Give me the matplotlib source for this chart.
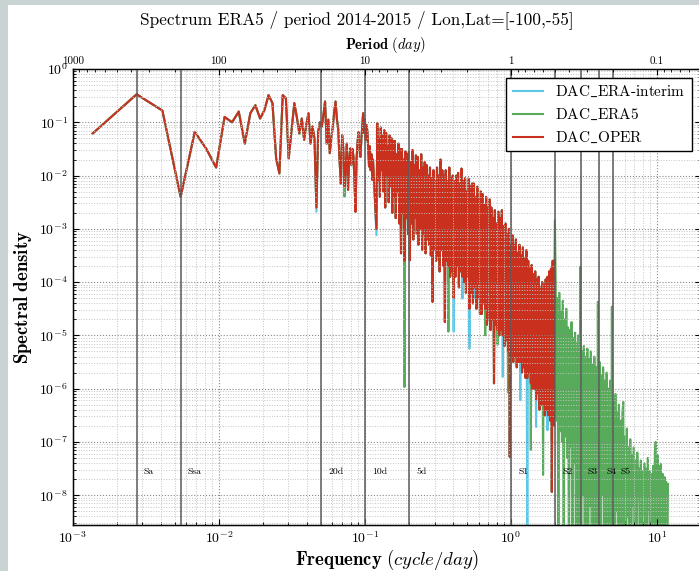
import numpy as np
import matplotlib
matplotlib.use("Agg")
import matplotlib.pyplot as plt
from matplotlib.patches import Rectangle
from matplotlib.ticker import LogLocator, FixedLocator, FixedFormatter, NullFormatter

plt.rcParams['font.family'] = ['cmr10', 'DejaVu Serif']
plt.rcParams['mathtext.fontset'] = 'cm'
plt.rcParams['axes.formatter.use_mathtext'] = True

# ---------------- data ----------------
# frequencies (cycle/day) shared by the three series, up to 2 cpd
freq_shared = [
    0.00137, 0.00274, 0.00411, 0.00548, 0.00685, 0.00822, 0.00959, 0.01096, 0.01233, 0.0137,
    0.01507, 0.01644, 0.0178, 0.01918, 0.02055, 0.0219, 0.0233, 0.0247, 0.0260, 0.0274,
    0.0288, 0.0301, 0.0315, 0.0329, 0.0342, 0.0356, 0.0370, 0.0384, 0.0397, 0.0411,
    0.0425, 0.0438, 0.0452, 0.0466, 0.0479, 0.0493, 0.0507, 0.0521, 0.0534, 0.0548,
    0.0562, 0.0575, 0.0589, 0.0603, 0.0616, 0.0630, 0.0644, 0.0658, 0.0671, 0.0685,
    0.0699, 0.0712, 0.0726, 0.0740, 0.0753, 0.0767, 0.0781, 0.0795, 0.0808, 0.0822,
    0.0836, 0.0849, 0.0863, 0.0877, 0.0890, 0.0904, 0.0918, 0.0932, 0.0945, 0.0959,
    0.0973, 0.0986, 0.1000, 0.1014, 0.1027, 0.1041, 0.1055, 0.1068, 0.1082, 0.1096,
    0.1110, 0.1123, 0.1137,
    0.1200, 0.1217, 0.1234, 0.1251, 0.1268, 0.1286, 0.1304, 0.1322, 0.1341, 0.1359,
    0.1378, 0.1398, 0.1417, 0.1437, 0.1457, 0.1477, 0.1498, 0.1519, 0.1540, 0.1562,
    0.1583, 0.1605, 0.1628, 0.1650, 0.1673, 0.1697, 0.1720, 0.1744, 0.1768, 0.1793,
    0.1818, 0.1843, 0.1869, 0.1895, 0.1922, 0.1948, 0.1975, 0.2003, 0.2031, 0.2059,
    0.2088, 0.2117, 0.2146, 0.2176, 0.2207, 0.2237, 0.2269, 0.2300, 0.2332, 0.2365,
    0.2398, 0.2431, 0.2465, 0.2499, 0.2534, 0.2569, 0.2605, 0.2641, 0.2678, 0.2715,
    0.2753, 0.2791, 0.2830, 0.2870, 0.2909, 0.2950, 0.2991, 0.3033, 0.3075, 0.3118,
    0.3161, 0.3205, 0.3250, 0.3295, 0.3341, 0.3388, 0.3435, 0.3482, 0.3531, 0.3580,
    0.3630, 0.3680, 0.3732, 0.3783, 0.3836, 0.3889, 0.3944, 0.3998, 0.4054, 0.4110,
    0.4168, 0.4226, 0.4284, 0.4344, 0.4404, 0.4466, 0.4528, 0.4591, 0.4655, 0.4719,
    0.4785, 0.4852, 0.4919, 0.4988, 0.5057, 0.5128, 0.5199, 0.5271, 0.5345, 0.5419,
    0.5495, 0.5571, 0.5649, 0.5727, 0.5807, 0.5888, 0.5970, 0.6053, 0.6137, 0.6223,
    0.6309, 0.6397, 0.6486, 0.6577, 0.6668, 0.6761, 0.6855, 0.6950, 0.7047, 0.7145,
    0.7244, 0.7345, 0.7447, 0.7551, 0.7656, 0.7762, 0.7870, 0.7980, 0.8091, 0.8203,
    0.8318, 0.8433, 0.8551, 0.8670, 0.8790, 0.8913, 0.9036, 0.9162, 0.9290, 0.9419,
    0.9550, 0.9683, 0.9817, 0.9954, 1.0093, 1.0233, 1.0375, 1.0520, 1.0666, 1.0815,
    1.0965, 1.1117, 1.1272, 1.1429, 1.1588, 1.1749, 1.1912, 1.2078, 1.2246, 1.2417,
    1.2589, 1.2764, 1.2942, 1.3122, 1.3305, 1.3490, 1.3677, 1.3868, 1.4060, 1.4256,
    1.4454, 1.4655, 1.4859, 1.5066, 1.5276, 1.5488, 1.5704, 1.5922, 1.6144, 1.6368,
    1.6596, 1.6827, 1.7061, 1.7298, 1.7539, 1.7783, 1.8030, 1.8281, 1.8535, 1.8793,
    1.9055, 1.9320, 1.9588, 1.9861, 2.0000,
]

# log10 of spectral density, DAC_OPER
oper_log_psd = [
    -1.21, -0.475, -0.78, -2.40, -1.18, -1.50, -1.85, -0.90, -1.00, -0.80,
    -1.40, -0.83, -0.68, -0.93, -0.77, -0.49, -0.64, -1.68, -1.96, -0.49,
    -0.55, -1.68, -1.15, -0.64, -0.90, -1.21, -0.93, -1.33, -1.05, -0.83,
    -1.40, -1.08, -1.30, -2.60, -1.18, -1.00, -1.08, -0.85, -0.61, -1.40,
    -0.95, -1.58, -1.30, -1.08, -0.82, -0.61, -0.95, -1.15, -1.71, -2.15,
    -1.24, -1.50, -2.20, -1.83, -1.40, -2.27, -1.70, -1.49, -1.80, -1.50,
    -1.65, -2.10, -2.68, -1.70, -1.40, -1.18, -1.50, -1.65, -1.35, -1.10,
    -0.83, -1.20, -0.95, -1.33, -1.05, -1.18, -1.50, -1.83, -1.45, -1.90,
    -1.60, -2.08, -1.70,
    -3.00, -1.02, -2.10, -1.30, -2.40, -1.10, -1.90, -1.25, -2.30, -1.15,
    -2.60, -1.20, -2.00, -1.45, -2.50, -1.25, -2.20, -1.30, -2.70, -1.35,
    -2.40, -1.35, -2.80, -1.60, -2.30, -1.40, -2.90, -1.50, -3.46, -1.50,
    -2.70, -1.70, -3.60, -1.55, -2.80, -1.60, -3.10, -1.55, -3.59, -1.75,
    -2.90, -1.52, -3.20, -1.80, -2.80, -1.62, -3.10, -1.65, -3.30, -1.90,
    -3.00, -1.60, -3.40, -1.85, -3.10, -1.75, -3.46, -1.80, -3.20, -2.00,
    -3.30, -1.85, -3.50, -2.05, -4.37, -1.90, -3.40, -2.10, -3.60, -1.85,
    -3.50, -2.00, -3.80, -1.70, -3.40, -1.90, -3.70, -2.00, -4.75, -1.90,
    -3.60, -2.10, -3.70, -1.85, -3.90, -2.05, -3.80, -2.00, -4.30, -2.10,
    -3.90, -2.00, -3.70, -1.95, -4.10, -2.15, -3.80, -1.87, -3.90, -2.10,
    -4.00, -2.05, -4.20, -2.30, -3.90, -2.06, -4.50, -2.20, -4.20, -2.15,
    -4.40, -2.15, -4.10, -2.40, -4.50, -2.21, -4.30, -2.45, -4.60, -2.30,
    -4.60, -2.35, -4.40, -2.55, -4.50, -2.40, -4.80, -2.60, -4.70, -2.45,
    -4.90, -2.60, -4.70, -2.80, -5.90, -2.65, -4.80, -2.90, -4.90, -2.68,
    -5.00, -2.80, -4.90, -2.65, -5.00, -2.95, -5.20, -2.90, -5.10, -3.10,
    -5.30, -3.00, -7.28, -3.30, -5.40, -3.12, -5.50, -3.30, -5.40, -3.20,
    -5.60, -3.45, -5.50, -3.30, -5.50, -3.50, -5.70, -3.35, -5.60, -3.55,
    -5.80, -3.40, -5.80, -3.60, -5.70, -3.75, -5.90, -3.68, -6.00, -3.85,
    -6.00, -3.80, -6.20, -3.95, -6.10, -3.90, -6.40, -4.10, -6.30, -4.00,
    -6.30, -4.05, -6.50, -3.95, -6.40, -3.90, -6.50, -3.80, -6.60, -3.75,
    -7.94, -3.60, -6.70, -3.59, -3.70,
]

# where DAC_ERA-interim differs from DAC_OPER (freq -> log10 psd)
interim_diff_freq = [0.0466, 0.1200, 0.4054, 0.4655, 0.5199, 0.5649, 0.8791, 1.1588, 1.2946, 1.4859, 1.7783]
interim_diff_log_psd = [-2.68, -3.12, -4.93, -4.31, -5.25, -4.30, -5.78, -6.22, -9.50, -6.72, -6.78]

# where DAC_ERA5 differs from DAC_OPER below 2 cpd
era5_diff_freq = [0.0726, 0.1869, 0.3732, 0.6668, 0.8091, 0.9550, 1.3677, 1.6596, 2.0000]
era5_diff_log_psd = [-2.40, -5.97, -4.93, -5.00, -5.18, -6.07, -7.15, -7.62, -2.84]

# DAC_ERA5 above 2 cpd
era5_hi_freq = [
    2.028, 2.056, 2.085, 2.113, 2.143, 2.173, 2.203, 2.234, 2.265, 2.296,
    2.328, 2.360, 2.393, 2.427, 2.460, 2.495, 2.529, 2.564, 2.600, 2.636,
    2.673, 2.710, 2.748, 2.786, 2.825, 2.864, 2.904, 2.944, 2.985, 3.027,
    3.069, 3.111, 3.155, 3.199, 3.243, 3.289, 3.334, 3.381, 3.428, 3.475,
    3.524, 3.573, 3.622, 3.673, 3.724, 3.776, 3.828, 3.882, 3.936, 3.990,
    4.046, 4.102, 4.159, 4.217, 4.276, 4.335, 4.395, 4.457, 4.519, 4.581,
    4.645, 4.710, 4.775, 4.842, 4.909, 4.977, 5.047, 5.117, 5.188, 5.260,
    5.333, 5.408, 5.483, 5.559, 5.636, 5.715, 5.794, 5.875, 5.957, 6.039,
    6.123, 6.209, 6.295, 6.383, 6.471, 6.561, 6.653, 6.745, 6.839, 6.934,
    7.031, 7.129, 7.228, 7.328, 7.430, 7.534, 7.638, 7.745, 7.852, 7.962,
    8.072, 8.185, 8.299, 8.414, 8.531, 8.650, 8.770, 8.892, 9.016, 9.141,
    9.268, 9.397, 9.528, 9.661, 9.795, 9.931, 10.07, 10.21, 10.35, 10.50,
    10.64, 10.79, 10.94, 11.09, 11.25, 11.40, 11.56, 11.72, 11.89,
]
era5_hi_log_psd = [
    -4.15, -6.60, -4.30, -10.0, -4.20, -6.80, -4.55, -7.00, -4.35, -10.0,
    -4.70, -6.90, -4.50, -7.30, -4.85, -10.0, -4.90, -7.10, -4.75, -10.0,
    -5.05, -7.40, -4.95, -10.0, -5.15, -10.0, -5.00, -10.0, -3.71, -10.0,
    -5.30, -8.00, -5.20, -10.0, -5.40, -10.0, -5.25, -10.0, -5.45, -8.20,
    -5.30, -10.0, -5.55, -10.0, -5.40, -10.0, -5.60, -10.0, -4.37, -10.0,
    -5.50, -10.0, -5.75, -8.00, -5.60, -10.0, -5.85, -10.0, -5.70, -10.0,
    -6.00, -10.0, -5.85, -10.0, -4.46, -10.0, -6.25, -10.0, -6.10, -8.30,
    -6.45, -10.0, -6.30, -10.0, -6.60, -10.0, -6.45, -6.25, -10.0, -6.90,
    -10.0, -6.75, -8.40, -7.10, -10.0, -6.95, -10.0, -7.25, -8.20, -7.10,
    -10.0, -7.35, -10.0, -7.20, -8.10, -7.50, -10.0, -7.35, -10.0, -7.55,
    -8.40, -7.40, -10.0, -7.50, -10.0, -7.30, -8.30, -7.55, -10.0, -7.60,
    -10.0, -7.45, -10.0, -7.20, -7.00, -10.0, -7.25, -10.0, -7.45, -10.0,
    -7.41, -10.0, -7.60, -10.0, -7.66, -10.0, -7.75, -10.0, -7.79,
]

# tidal / reference frequencies (cycle/day) and their labels
line_freq = [1 / 365.25, 2 / 365.25, 1 / 20, 1 / 10, 1 / 5, 1, 2, 3, 4, 5]
line_labels = ['Sa', 'Ssa', '20d', '10d', '5d', 'S1', 'S2', 'S3', 'S4', 'S5']

period_ticks = [1000, 100, 10, 1, 0.1]
period_labels = ['1000', '100', '10', '1', '0.1']

series_names = ['DAC$\\_$ERA-interim', 'DAC$\\_$ERA5', 'DAC$\\_$OPER']
series_colors = ['#5cc6e6', '#57ab5a', '#c9301d']

# ---------------- build series ----------------
f_sh = np.array(freq_shared)
oper_psd = 10.0 ** np.array(oper_log_psd)

interim_psd = oper_psd.copy()
for f, v in zip(interim_diff_freq, interim_diff_log_psd):
    interim_psd[np.argmin(np.abs(f_sh - f))] = 10.0 ** v

era5_lo = oper_psd.copy()
for f, v in zip(era5_diff_freq, era5_diff_log_psd):
    era5_lo[np.argmin(np.abs(f_sh - f))] = 10.0 ** v
era5_freq = np.concatenate([f_sh, np.array(era5_hi_freq)])
era5_psd = np.concatenate([era5_lo, 10.0 ** np.array(era5_hi_log_psd)])

# ---------------- figure ----------------
W, H = 699, 571
fig = plt.figure(figsize=(W / 100, H / 100), dpi=100)
fig.patch.set_facecolor('#c9d3d3')
fig.add_artist(Rectangle((8 / W, 0), 1, (H - 5) / H, transform=fig.transFigure,
                         facecolor='white', edgecolor='none', zorder=-10))

left, right, top, bottom = 72.7, 701.0, 69.0, 525.0
ax = fig.add_axes([left / W, 1 - bottom / H, (right - left) / W, (bottom - top) / H])
ax.set_xscale('log')
ax.set_yscale('log')

lw = 1.5
ax.plot(f_sh, interim_psd, color=series_colors[0], lw=lw, label=series_names[0], zorder=2)
ax.plot(era5_freq, era5_psd, color=series_colors[1], lw=lw, label=series_names[1], zorder=2.1)
ax.plot(f_sh, oper_psd, color=series_colors[2], lw=lw, label=series_names[2], zorder=2.2)

for f, name in zip(line_freq, line_labels):
    ax.axvline(f, color='#5a5a5a', lw=1.1, zorder=3)
    ax.text(f * 1.12, 2.7e-8, name, fontsize=7, ha='left', va='center', zorder=4)

ax.set_xlim(1e-3, 20)
ax.set_ylim(10 ** -8.56, 1)

ax.xaxis.set_major_locator(LogLocator(base=10, numticks=50))
ax.yaxis.set_major_locator(LogLocator(base=10, numticks=50))
ax.xaxis.set_minor_locator(LogLocator(base=10, subs=np.arange(2, 10), numticks=50))
ax.yaxis.set_minor_locator(LogLocator(base=10, subs=np.arange(2, 10), numticks=50))
ax.xaxis.set_minor_formatter(NullFormatter())
ax.yaxis.set_minor_formatter(NullFormatter())

ax.set_axisbelow(False)
ax.grid(True, which='major', ls=':', color='#888888', lw=0.8, zorder=2.5)
ax.grid(True, which='minor', ls=':', color='#c4c4c4', lw=0.7, zorder=2.5)
ax.tick_params(which='both', direction='in', top=False, right=True, labelsize=10)
ax.tick_params(which='major', length=4)
ax.tick_params(which='minor', length=2)
for s in ax.spines.values():
    s.set_linewidth(1.0)

# top axis: period (day)
ax2 = ax.twiny()
ax2.set_xscale('log')
ax2.set_xlim(ax.get_xlim())
ax2.xaxis.set_major_locator(FixedLocator([1.0 / p for p in period_ticks]))
ax2.xaxis.set_major_formatter(FixedFormatter(period_labels))
minor_periods = [m * 10.0 ** e for e in range(-2, 3) for m in range(2, 10)]
ax2.xaxis.set_minor_locator(FixedLocator([1.0 / p for p in minor_periods]))
ax2.xaxis.set_minor_formatter(NullFormatter())
ax2.tick_params(which='both', direction='in', labelsize=8, pad=2)
ax2.tick_params(which='major', length=4)
ax2.tick_params(which='minor', length=2)

ax.set_xlabel(r'$\mathbf{Frequency}\ (cycle/day)$', fontsize=13.5)
ax.xaxis.set_label_coords(0.5, -0.05)
ax.set_ylabel(r'$\mathbf{Spectral\ density}$', fontsize=13.5)
ax.yaxis.set_label_coords(-0.062, 0.5)

fig.text(386 / W, 1 - 45 / H, r'$\mathbf{Period}\ (day)$', fontsize=10.5, ha='center', va='center')
fig.text(357 / W, 1 - 20 / H, 'Spectrum ERA5 / period 2014-2015 / Lon,Lat=[-100,-55]',
         fontsize=12.4, ha='center', va='center')

leg = ax.legend(loc='upper right', fontsize=11, fancybox=False, framealpha=1,
                edgecolor='black', borderaxespad=0.6, handlelength=2.0)
leg.get_frame().set_linewidth(1.0)
leg.set_zorder(10)

fig.savefig('out.png', dpi=100, facecolor=fig.get_facecolor())
